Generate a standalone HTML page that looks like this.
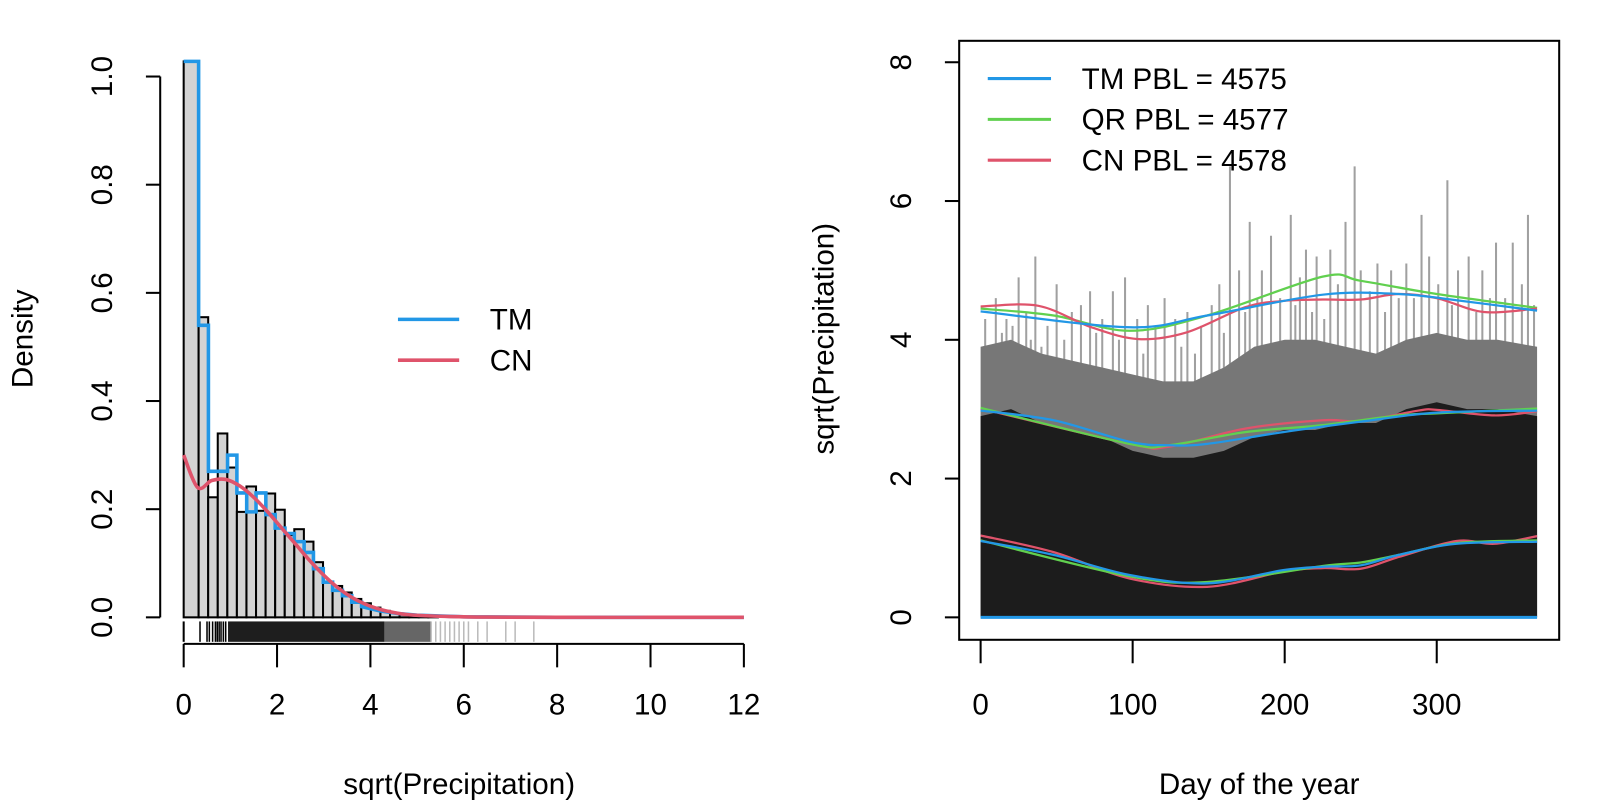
<!DOCTYPE html>
<html><head><meta charset="utf-8"><style>
html,body{margin:0;padding:0;background:#fff;overflow:hidden;width:1600px;height:800px;}
svg{display:block;font-family:"Liberation Sans",sans-serif;}
</style></head><body>
<svg id="chart" width="1600" height="800" viewBox="0 0 1568 784" xmlns="http://www.w3.org/2000/svg" font-family="Liberation Sans, sans-serif">
<g id="right"></g>
<g id="left"></g>
<text transform="translate(32,332) rotate(-90)" text-anchor="middle" font-size="29">Density</text>
<text x="450" y="778" text-anchor="middle" font-size="29">sqrt(Precipitation)</text>
<text transform="translate(817,332) rotate(-90)" text-anchor="middle" font-size="29">sqrt(Precipitation)</text>
<text x="1234" y="778" text-anchor="middle" font-size="29">Day of the year</text>
<g>
<line x1="390" x2="450" y1="313" y2="313" stroke="#2297E6" stroke-width="3.5"/>
<text x="480" y="323" font-size="29">TM</text>
<line x1="390" x2="450" y1="353" y2="353" stroke="#DF536B" stroke-width="3.5"/>
<text x="480" y="363" font-size="29">CN</text>
</g>
<g>
<line x1="968" x2="1030" y1="77" y2="77" stroke="#2297E6" stroke-width="3"/>
<text x="1060" y="87" font-size="29">TM PBL = 4575</text>
<line x1="968" x2="1030" y1="117" y2="117" stroke="#61D04F" stroke-width="3"/>
<text x="1060" y="127" font-size="29">QR PBL = 4577</text>
<line x1="968" x2="1030" y1="157" y2="157" stroke="#DF536B" stroke-width="3"/>
<text x="1060" y="167" font-size="29">CN PBL = 4578</text>
</g>
</svg>
<script>
// ---- Left panel data ----
const histBreaks = [0,0.32,0.525,0.73,0.935,1.14,1.345,1.55,1.755,1.96,2.165,2.37,2.575,2.78,2.985,3.19,3.395,3.6,3.805,4.01,4.215,4.42,4.625,4.83,5.035,5.24,5.445];
const histDensity = [1.028,0.555,0.222,0.340,0.277,0.195,0.242,0.197,0.229,0.199,0.152,0.163,0.140,0.102,0.065,0.058,0.046,0.034,0.026,0.018,0.012,0.008,0.005,0.003,0.002,0.001];
const tmX = [0,0.32,0.32,0.53,0.53,0.94,0.94,1.14,1.14,1.35,1.35,1.55,1.55,1.76,1.76,1.96,1.96,2.17,2.17,2.37,2.37,2.58,2.58,2.78,2.78,2.99,2.99,3.19,3.19,3.4,3.4,3.6,3.6,3.81,3.81,4.2,4.6,5,6,8,10,12];
const tmY = [1.028,1.028,0.54,0.54,0.27,0.27,0.30,0.30,0.23,0.23,0.195,0.195,0.23,0.23,0.19,0.19,0.165,0.165,0.155,0.155,0.14,0.14,0.12,0.12,0.09,0.09,0.065,0.065,0.05,0.05,0.04,0.04,0.028,0.028,0.02,0.012,0.007,0.004,0.001,0,0,0];
const cnX = [0,0.3,0.6,0.9,1.2,1.5,1.8,2.1,2.4,2.7,3.0,3.3,3.6,3.9,4.2,4.5,4.8,5.2,5.7,6.5,8,10,12];
const cnY = [0.30,0.24,0.253,0.255,0.243,0.222,0.195,0.165,0.135,0.105,0.078,0.055,0.037,0.024,0.015,0.009,0.005,0.003,0.0015,0.0005,0,0,0];
const leftXTicks = [0,2,4,6,8,10,12];
const leftYTicks = [0,0.2,0.4,0.6,0.8,1.0];
const leftYLabels = ["0.0","0.2","0.4","0.6","0.8","1.0"];
const rugDense = [0.35,0.5,0.55,0.62,0.68,0.72,0.76,0.8,0.85,0.9];
const rugSparse = [5.3,5.4,5.5,5.6,5.7,5.8,5.9,6.0,6.1,6.3,6.5,6.9,7.1,7.5];

// ---- Right panel data ----
const rightXTicks = [0,100,200,300];
const rightYTicks = [0,2,4,6,8];
const upTMd=[0,98,149,225,275,313,366], upTM=[4.41,4.18,4.35,4.65,4.66,4.57,4.42];
const upQRd=[0,48,98,149,225,250,300,366], upQR=[4.45,4.35,4.13,4.35,4.91,4.85,4.66,4.46];
const upCNd=[0,38,73,104,136,174,199,225,250,275,300,331,366], upCN=[4.48,4.49,4.18,4.01,4.11,4.47,4.56,4.58,4.58,4.66,4.60,4.40,4.45];
const midTMd=[0,48,98,124,149,199,250,300,366], midTM=[2.98,2.84,2.53,2.48,2.50,2.67,2.82,2.95,2.98];
const midCNd=[0,98,124,174,225,250,288,300,338,366], midCN=[3.01,2.50,2.46,2.72,2.84,2.83,2.98,2.99,2.91,2.97];
const midQRd=[0,98,124,174,225,275,300,366], midQR=[3.02,2.50,2.48,2.67,2.77,2.91,2.94,3.01];
const loTMd=[0,48,98,149,199,225,250,275,313,366], loTM=[1.10,0.90,0.61,0.49,0.68,0.73,0.75,0.90,1.06,1.09];
const loCNd=[0,48,98,149,199,225,250,275,313,338,366], loCN=[1.18,0.94,0.56,0.44,0.66,0.71,0.70,0.87,1.10,1.06,1.17];
const loQRd=[0,98,149,225,250,275,313,366], loQR=[1.11,0.59,0.51,0.74,0.79,0.90,1.07,1.11];
const envDays=[0,20,40,60,80,100,120,140,160,180,200,220,240,260,280,300,320,340,366];
const darkEnv=[2.9,3.0,2.8,2.7,2.6,2.4,2.3,2.3,2.4,2.6,2.7,2.7,2.8,2.8,3.0,3.1,3.0,3.0,2.9];
const grayEnv=[3.9,4.0,3.8,3.7,3.6,3.5,3.4,3.4,3.6,3.9,4.0,4.0,3.9,3.8,4.0,4.1,4.0,4.0,3.9];
const spikeDays=[3,7,10,14,17,21,25,30,33,36,40,44,50,55,60,66,72,76,80,87,91,95,103,107,110,115,121,128,132,136,141,145,152,157,160,164,170,174,177,182,185,191,197,204,207,210,214,218,221,226,230,235,240,246,250,256,261,266,270,275,280,285,290,295,301,307,310,314,321,326,330,335,339,345,350,356,360,364];
const spikeVals=[4.3,3.9,4.6,4.1,4.3,4.2,4.9,4.4,4.0,5.2,3.9,4.2,4.8,4.0,4.4,4.5,4.7,4.1,4.3,4.7,4.0,4.9,4.3,3.8,4.5,4.2,4.6,4.3,3.9,4.4,3.8,4.2,4.5,4.8,4.1,6.5,5.0,4.4,5.7,4.6,5.0,5.5,4.6,5.8,4.5,4.9,5.3,4.4,5.2,4.3,5.3,4.8,5.7,6.5,5.0,4.7,5.1,4.4,5.0,4.6,5.1,4.6,5.8,5.2,4.8,6.3,4.5,5.0,5.2,4.4,5.0,4.6,5.4,4.6,5.4,4.8,5.8,4.5];

const NS="http://www.w3.org/2000/svg";
function mk(parent,tag,attrs,text){const e=document.createElementNS(NS,tag);for(const k in attrs)e.setAttribute(k,attrs[k]);if(text!==undefined)e.textContent=text;parent.appendChild(e);return e;}
function smoothPath(pts){let d=`M${pts[0][0]},${pts[0][1]}`;for(let i=0;i<pts.length-1;i++){const p0=pts[Math.max(0,i-1)],p1=pts[i],p2=pts[i+1],p3=pts[Math.min(pts.length-1,i+2)];const c1x=p1[0]+(p2[0]-p0[0])/6,c1y=p1[1]+(p2[1]-p0[1])/6,c2x=p2[0]-(p3[0]-p1[0])/6,c2y=p2[1]-(p3[1]-p1[1])/6;d+=` C${c1x},${c1y} ${c2x},${c2y} ${p2[0]},${p2[1]}`;}return d;}

// ---- Left panel ----
const L=document.getElementById('left');
const lx=v=>180+v*45.75, ly=v=>605-v*530;
for(let i=0;i<histDensity.length;i++){
  const r=mk(L,'rect',{x:lx(histBreaks[i]),y:ly(histDensity[i]),width:lx(histBreaks[i+1])-lx(histBreaks[i]),height:605-ly(histDensity[i]),fill:'#d3d3d3',stroke:'#000','stroke-width':2});
  
  
}
const rug=mk(L,'g',{});


rugDense.forEach(v=>mk(rug,'line',{x1:lx(v),x2:lx(v),y1:609,y2:629,stroke:'#000','stroke-width':1.5}));
mk(rug,'rect',{x:lx(0.95),y:609,width:lx(4.3)-lx(0.95),height:20,fill:'#1e1e1e'});
mk(rug,'rect',{x:lx(4.3),y:609,width:lx(5.3)-lx(4.3),height:20,fill:'#666'});
rugSparse.forEach(v=>mk(rug,'line',{x1:lx(v),x2:lx(v),y1:609,y2:629,stroke:'#bbb','stroke-width':1.5}));
mk(rug,'line',{x1:lx(0),x2:lx(0),y1:609,y2:629,stroke:'#000','stroke-width':2});
let tp=tmX.map((x,i)=>`${i?'L':'M'}${lx(x)},${ly(tmY[i])}`).join(' ');
const tm=mk(L,'path',{d:tp,fill:'none',stroke:'#2297E6','stroke-width':3.5});


const cn=mk(L,'path',{d:smoothPath(cnX.map((x,i)=>[lx(x),ly(cnY[i])])),fill:'none',stroke:'#DF536B','stroke-width':3.5});


const lya=mk(L,'g',{});


mk(lya,'line',{x1:157,x2:157,y1:ly(0),y2:ly(1),stroke:'#000','stroke-width':2});
leftYTicks.forEach((v,i)=>{mk(lya,'line',{x1:143,x2:157,y1:ly(v),y2:ly(v),stroke:'#000','stroke-width':2});
  const t=mk(lya,'text',{x:0,y:0,transform:`translate(110,${ly(v)}) rotate(-90)`,'text-anchor':'middle','font-size':29},leftYLabels[i]);
  
  });
const lxa=mk(L,'g',{});


mk(lxa,'line',{x1:lx(0),x2:lx(12),y1:631,y2:631,stroke:'#000','stroke-width':2});
leftXTicks.forEach(v=>{mk(lxa,'line',{x1:lx(v),x2:lx(v),y1:631,y2:654,stroke:'#000','stroke-width':2});
  const t=mk(lxa,'text',{x:lx(v),y:700,'text-anchor':'middle','font-size':29},String(v));
  
  });

// ---- Right panel ----
const R=document.getElementById('right');
const rx=d=>961+d*1.49, ry=v=>605-v*68;
spikeDays.forEach((d,i)=>{const s=mk(R,'line',{x1:rx(d),x2:rx(d),y1:ry(0),y2:ry(spikeVals[i]),stroke:'#a0a0a0','stroke-width':2});
  
  });
const grayPts=envDays.map((d,i)=>`${rx(d)},${ry(grayEnv[i])}`);
const darkPts=envDays.map((d,i)=>`${rx(d)},${ry(darkEnv[i])}`);
const gp=mk(R,'polygon',{points:`${rx(0)},${ry(0)} ${grayPts.join(' ')} ${rx(366)},${ry(0)}`,fill:'#777'});


const dp=mk(R,'polygon',{points:`${rx(0)},${ry(0)} ${darkPts.join(' ')} ${rx(366)},${ry(0)}`,fill:'#1c1c1c'});


function curve(ds,vs,col,name){const p=mk(R,'path',{d:smoothPath(ds.map((d,i)=>[rx(d),ry(vs[i])])),fill:'none',stroke:col,'stroke-width':2.2});
  
  }
const G='#61D04F',B='#2297E6',Rr='#DF536B';
curve(upQRd,upQR,G,'qr-upper-quantile');curve(upCNd,upCN,Rr,'cn-upper-quantile');curve(upTMd,upTM,B,'tm-upper-quantile');
curve(midCNd,midCN,Rr,'cn-median');curve(midQRd,midQR,G,'qr-median');curve(midTMd,midTM,B,'tm-median');
curve(loCNd,loCN,Rr,'cn-lower-quantile');curve(loQRd,loQR,G,'qr-lower-quantile');curve(loTMd,loTM,B,'tm-lower-quantile');
const z=mk(R,'line',{x1:rx(0),x2:rx(366),y1:ry(0),y2:ry(0),stroke:B,'stroke-width':3});


const box=mk(R,'rect',{x:940,y:40,width:588,height:587,fill:'none',stroke:'#000','stroke-width':2});


const rya=mk(R,'g',{});


rightYTicks.forEach(v=>{mk(rya,'line',{x1:926,x2:940,y1:ry(v),y2:ry(v),stroke:'#000','stroke-width':2});
  const t=mk(rya,'text',{x:0,y:0,transform:`translate(893,${ry(v)}) rotate(-90)`,'text-anchor':'middle','font-size':29},String(v));
  
  });
const rxa=mk(R,'g',{});


rightXTicks.forEach(v=>{mk(rxa,'line',{x1:rx(v),x2:rx(v),y1:627,y2:650,stroke:'#000','stroke-width':2});
  const t=mk(rxa,'text',{x:rx(v),y:700,'text-anchor':'middle','font-size':29},String(v));
  
  });
</script>
</body></html>
